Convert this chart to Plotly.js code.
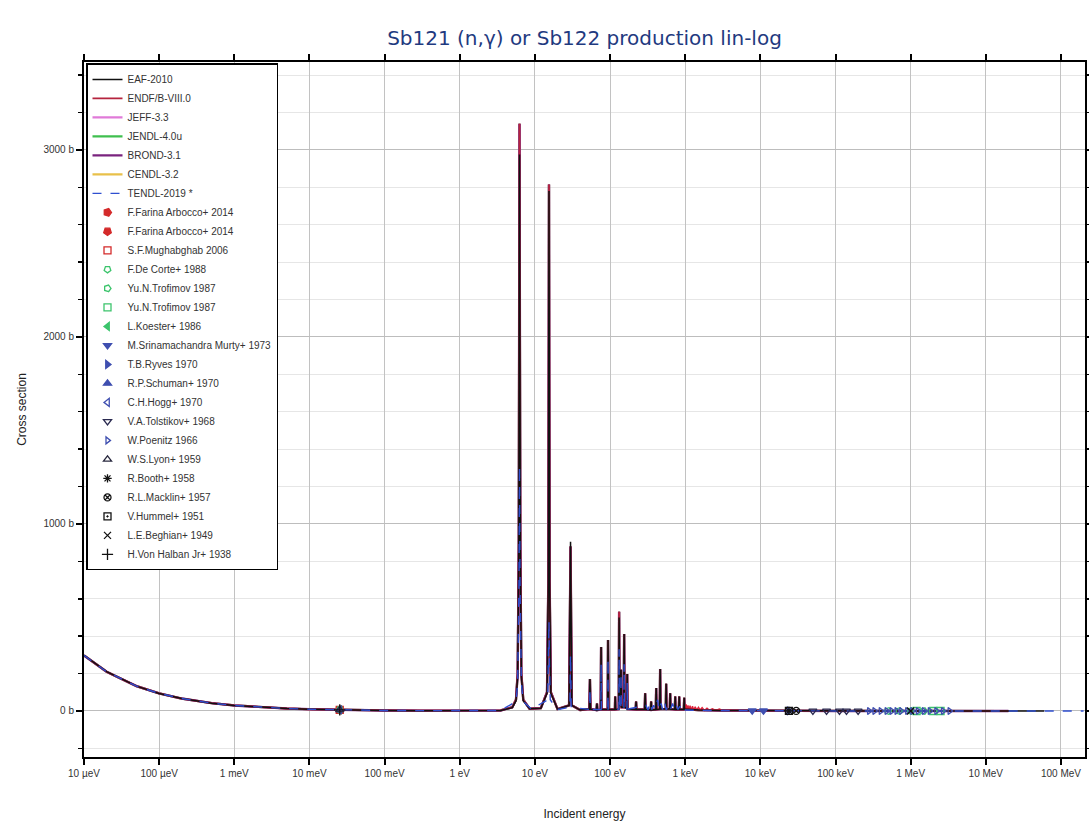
<!DOCTYPE html>
<html>
<head>
<meta charset="utf-8">
<script src="https://cdn.plot.ly/plotly-3.0.1.min.js"></script>
<style>html,body{margin:0;padding:0;background:#fff;}#chart{width:1089px;height:826px;}</style>
</head>
<body>
<div id="chart"></div>
<script>
// ---------------- data ----------------
// Common energy grid (eV) for the evaluated libraries
var energyEval = [
  1e-5, 2e-5, 5e-5, 1e-4, 2e-4, 5e-4, 1e-3, 2e-3, 5e-3, 1e-2,
  2.53e-2, 0.1, 0.3, 1, 2, 3.5, 5, 5.6, 5.9, 6.1,
  6.2, 6.24, 6.28, 6.4, 6.6, 7, 8.5, 12, 14.5, 15.1,
  15.4, 15.7, 16.3, 20, 28.5, 29.8, 31, 40, 53, 54,
  55, 66, 67, 68, 75, 76, 77, 93, 94, 95.5,
  116, 117, 118.5, 130.5, 132, 134, 138, 140, 142, 152,
  154, 156, 167, 169, 171, 219, 222, 225, 289, 293,
  297, 348, 352, 356, 406, 411, 416, 458, 464, 470,
  551, 558, 565, 623, 631, 639, 727, 736, 745, 822,
  832, 842, 958, 970, 982, 1500, 3000, 1e4, 2.5e4, 1e5,
  3e5, 1e6, 3e6, 1e7, 2e7, 6e7
];
// Cross sections (b): ENDF/B-VIII.0, JEFF-3.3, JENDL-4.0u, BROND-3.1, CENDL-3.2
var xsEval = [
  297, 210, 133, 94, 66.5, 42, 29.7, 21, 13.3, 9.4,
  5.9, 3.0, 1.9, 1.4, 1.6, 3, 20, 60, 200, 900,
  2500, 3140, 2500, 900, 200, 60, 12, 15, 100, 700,
  2815, 700, 100, 10, 30, 880, 30, 5, 10, 171,
  10, 5, 40, 5, 8, 342, 8, 8, 380, 8,
  8, 77, 8, 10, 530, 30, 30, 220, 20, 20,
  411, 20, 15, 198, 10, 8, 50, 8, 8, 95,
  8, 6, 50, 6, 8, 123, 8, 10, 225, 10,
  10, 145, 10, 10, 95, 10, 8, 77, 8, 8,
  77, 8, 8, 70, 10, 5, 3, 1.2, 0.8, 0.35,
  0.2, 0.08, 0.03, 0.005, 0.002, null
];
// EAF-2010 (same grid, extends to 60 MeV)
var xsEAF = [
  297, 210, 133, 94, 66.5, 42, 29.7, 21, 13.3, 9.4,
  5.9, 3.0, 1.9, 1.4, 1.6, 3, 18, 55, 190, 850,
  2400, 2975, 2400, 850, 190, 55, 12, 15, 95, 690,
  2780, 690, 95, 10, 30, 905, 30, 5, 10, 171,
  10, 5, 40, 5, 8, 342, 8, 8, 380, 8,
  8, 77, 8, 10, 500, 30, 30, 220, 20, 20,
  411, 20, 15, 198, 10, 8, 50, 8, 8, 95,
  8, 6, 50, 6, 8, 123, 8, 10, 225, 10,
  10, 145, 10, 10, 95, 10, 8, 77, 8, 8,
  77, 8, 8, 70, 10, 5, 3, 1.3, 0.8, 0.35,
  0.2, 0.08, 0.03, 0.005, 0.002, 0.001
];
// ENDF/B-VIII.0 unresolved-range fluctuations
var energyURR = [1000, 1030, 1060, 1090, 1120, 1160, 1200, 1250, 1300, 1360,
  1420, 1500, 1580, 1680, 1800, 1950, 2100, 2300, 2550, 2850,
  3200, 3700, 4300, 5000];
var xsURR = [8, 35, 4, 30, 6, 28, 3, 25, 5, 22,
  4, 20, 6, 18, 3, 15, 4, 12, 3, 10,
  2, 7, 2, 4];
// TENDL-2019
var energyTENDL = [
  1e-5, 2e-5, 5e-5, 1e-4, 2e-4, 5e-4, 1e-3, 2e-3, 5e-3, 1e-2,
  2.53e-2, 0.1, 0.3, 1, 2, 3.5, 5.6, 5.9,
  6.15, 6.24, 6.33, 6.6, 7, 9, 14.8, 15.2, 15.4, 15.6,
  16, 20, 29.2, 29.8, 30.4, 53.5, 54, 54.5, 75.5, 76,
  76.5, 93.5, 94, 94.5, 131, 132, 133, 139, 140, 141,
  153, 154, 155, 168, 169, 170, 300, 320, 340, 360,
  380, 400, 430, 450, 480, 500, 530, 560, 600, 640,
  680, 720, 760, 800, 850, 900, 950, 1000, 2000, 1e4,
  1e5, 1e6, 1e7, 2e8
];
var xsTENDL = [
  297, 210, 133, 94, 66.5, 42, 29.7, 21, 13.3, 9.4,
  5.9, 3.0, 1.9, 1.4, 1.6, 3, 50, 150,
  700, 1310, 700, 150, 50, 10, 60, 250, 480, 250,
  60, 8, 20, 300, 20, 8, 120, 8, 8, 250,
  8, 8, 280, 8, 10, 330, 10, 10, 200, 10,
  10, 250, 10, 10, 150, 10, 30, 5, 45, 8,
  30, 10, 60, 5, 40, 8, 50, 5, 35, 10,
  40, 5, 30, 8, 25, 5, 20, 5, 3, 1.2,
  0.35, 0.08, 0.005, 0.0005
];
// Experimental data (EXFOR)
var expNames = [
  'F.Farina Arbocco+ 2014', 'F.Farina Arbocco+ 2014', 'S.F.Mughabghab 2006', 'F.De Corte+ 1988',
  'Yu.N.Trofimov 1987', 'Yu.N.Trofimov 1987', 'L.Koester+ 1986', 'M.Srinamachandra Murty+ 1973',
  'T.B.Ryves 1970', 'R.P.Schuman+ 1970', 'C.H.Hogg+ 1970', 'V.A.Tolstikov+ 1968',
  'W.Poenitz 1966', 'W.S.Lyon+ 1959', 'R.Booth+ 1958', 'R.L.Macklin+ 1957',
  'V.Hummel+ 1951', 'L.E.Beghian+ 1949', 'H.Von Halban Jr+ 1938'
];
var expEnergies = [
  [0.0253], [0.0253], [0.0253], [0.0253],
  [5e5, 7e5, 1e6, 1.5e6], [1.2e6, 2e6, 2.5e6], [0.0253], [7.8e3, 1.1e4],
  [2.4e4], [0.0253], [0.0253], [5e4, 7.6e4, 1.13e5, 1.4e5, 2e5],
  [2.8e5, 3.3e5, 4e5, 4.8e5, 5.6e5, 6.5e5, 7.5e5, 9e5, 1.05e6, 1.25e6, 1.5e6, 1.8e6, 2.2e6, 2.7e6, 3.3e6],
  [0.0253], [2.4e4], [3e4],
  [2.4e4], [1e6], [0.0253]
];
var expXS = [
  [5.7], [5.9], [5.9], [6.2],
  [0.12, 0.1, 0.08, 0.06], [0.07, 0.05, 0.04], [6.0], [1.5, 1.2],
  [0.6], [6.3], [5.8], [0.5, 0.4, 0.3, 0.25, 0.2],
  [0.18, 0.16, 0.15, 0.14, 0.13, 0.12, 0.11, 0.1, 0.09, 0.08, 0.07, 0.06, 0.05, 0.045, 0.04],
  [6.1], [0.55], [0.5],
  [0.6], [0.09], [5.5]
];

// ---------------- styles ----------------
var expSymbols = ['pentagon', 'pentagon', 'square-open', 'pentagon-open',
  'pentagon-open', 'square-open', 'triangle-left', 'triangle-down',
  'triangle-right', 'triangle-up', 'triangle-left-open', 'triangle-down-open',
  'triangle-right-open', 'triangle-up-open', 'asterisk-open', 'circle-x-open',
  'square-open-dot', 'x-thin-open', 'cross-thin-open'];
var expAngles = [90, 180, 0, 180, 90, 0, 0, 0, 0, 0, 0, 0, 0, 0, 0, 0, 0, 0, 0];
var expColors = ['#d42a2a', '#d42a2a', '#d42a2a', '#3cc46c',
  '#3cc46c', '#3cc46c', '#3cc46c', '#3f4fb0',
  '#3f4fb0', '#3f4fb0', '#3f4fb0', '#2a2a50',
  '#3f4fb0', '#2a2a40', '#111111', '#111111',
  '#111111', '#111111', '#111111'];
var expSizes = [8, 8, 7, 7, 7, 7, 7, 7, 7, 7, 7, 7, 6, 7, 7, 7, 7, 7, 8];

var traces = [];
function lib(name, x, y, color, width, rank, dash) {
  return {x: x, y: y, type: 'scatter', mode: 'lines', name: name, legendrank: rank,
    line: {color: color, width: width, dash: dash || 'solid'}, connectgaps: false,
    hoverinfo: 'skip'};
}
traces.push(lib('CENDL-3.2', energyEval, xsEval, '#e8c04a', 2.2, 6));
traces.push(lib('JENDL-4.0u', energyEval, xsEval, '#3fbf4f', 2.2, 4));
traces.push(lib('JEFF-3.3', energyEval, xsEval, '#e07ad8', 2.2, 3));
traces.push(lib('BROND-3.1', energyEval, xsEval, '#7a237e', 2.4, 5));
traces.push(lib('ENDF/B-VIII.0', energyEval, xsEval, '#b5243e', 1.8, 2));
traces[traces.length - 1].legendgroup = 'endf';
var urr = lib('ENDF/B-VIII.0', energyURR, xsURR, '#e0203a', 1.4, 2);
urr.showlegend = false; urr.legendgroup = 'endf';
traces.push(urr);
traces.push(lib('EAF-2010', energyEval, xsEAF, '#111111', 1.5, 1));
traces.push(lib('TENDL-2019 *', energyTENDL, xsTENDL, '#2f4fd0', 1.4, 7, 'dash'));

for (var i = 0; i < expNames.length; i++) {
  traces.push({
    x: expEnergies[i], y: expXS[i], type: 'scatter', mode: 'markers', name: expNames[i],
    legendrank: 8 + i,
    marker: {symbol: expSymbols[i], angle: expAngles[i], size: expSizes[i], color: expColors[i],
      line: {color: expColors[i], width: 1.3}},
    hoverinfo: 'skip'
  });
}

var xTickVals = [1e-5, 1e-4, 1e-3, 1e-2, 1e-1, 1, 10, 100, 1e3, 1e4, 1e5, 1e6, 1e7, 1e8];
var xTickText = ['10 µeV', '100 µeV', '1 meV', '10 meV', '100 meV', '1 eV', '10 eV',
  '100 eV', '1 keV', '10 keV', '100 keV', '1 MeV', '10 MeV', '100 MeV'];

var layout = {
  width: 1089, height: 826,
  margin: {l: 84, r: 4, t: 62, b: 69},
  paper_bgcolor: '#ffffff', plot_bgcolor: '#ffffff',
  title: {text: 'Sb121 (n,γ) or Sb122 production lin-log',
    font: {family: 'DejaVu Sans', size: 20, color: '#1f3a80'},
    x: 0.5, xref: 'paper', xanchor: 'center', y: 0.954, yref: 'container', yanchor: 'middle'},
  showlegend: true,
  legend: {x: 0.002, y: 0.998, xanchor: 'left', yanchor: 'top', bgcolor: '#ffffff',
    bordercolor: '#000000', borderwidth: 1.5, font: {family: 'Liberation Sans', size: 10, color: '#333'},
    tracegroupgap: 0, itemwidth: 30},
  xaxis: {type: 'log', range: [-5, 8.32], tickmode: 'array', tickvals: xTickVals, ticktext: xTickText,
    ticks: 'outside', ticklen: 6, tickwidth: 2, tickcolor: '#000',
    showline: true, linecolor: '#000', linewidth: 2, mirror: 'ticks',
    showgrid: true, gridcolor: '#c2c2c2', gridwidth: 1, zeroline: false,
    tickfont: {family: 'Liberation Sans', size: 10, color: '#333'},
    title: {text: 'Incident energy', font: {family: 'Liberation Sans', size: 12, color: '#222'}, standoff: 32},
    automargin: false},
  yaxis: {range: [-246, 3470], tickmode: 'linear', tick0: 0, dtick: 1000, ticksuffix: ' b',
    ticks: 'outside', ticklen: 6, tickwidth: 2, tickcolor: '#000',
    showline: true, linecolor: '#000', linewidth: 2, mirror: 'ticks',
    showgrid: true, gridcolor: '#bdbdbd', gridwidth: 1, zeroline: false,
    minor: {tickmode: 'linear', tick0: 0, dtick: 200, ticks: 'outside', ticklen: 4, tickwidth: 1.5,
      tickcolor: '#000', showgrid: true, gridcolor: '#e6e6e6', gridwidth: 1},
    tickfont: {family: 'Liberation Sans', size: 10, color: '#333'},
    title: {text: 'Cross section', font: {family: 'Liberation Sans', size: 12, color: '#222'}, standoff: 14},
    automargin: false}
};

Plotly.newPlot('chart', traces, layout, {displayModeBar: false, staticPlot: true});
</script>
</body>
</html>
